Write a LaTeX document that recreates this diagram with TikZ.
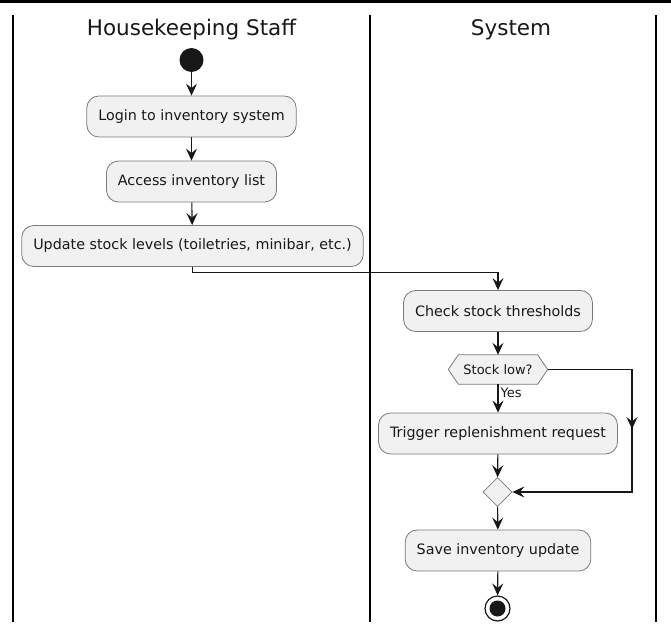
\documentclass[tikz,border=0pt]{standalone}
\usepackage{fontspec}
\setmainfont{DejaVu Sans}
\usetikzlibrary{arrows.meta,shapes.geometric}
\definecolor{boxfill}{HTML}{F1F1F1}
\definecolor{boxline}{HTML}{7A7A7A}
\definecolor{ink}{HTML}{181818}
\tikzset{
  act/.style={draw=boxline, fill=boxfill, rounded corners=12pt, line width=0.8pt,
    minimum height=41pt, inner xsep=11.5pt, font=\fontsize{14.3}{16}\selectfont, text=ink},
  flow/.style={draw=ink, line width=1.1pt, -{Stealth[length=12pt,width=11pt,inset=4.5pt]}},
  lane/.style={draw=black, line width=1.6pt},
  lanetitle/.style={font=\fontsize{21.5}{24}\selectfont, text=ink},
  small/.style={font=\fontsize{13}{15}\selectfont, text=ink},
}
\begin{document}
\begin{tikzpicture}[x=1pt,y=-1pt]
\useasboundingbox (0,0) rectangle (671,629);
\fill[black] (0,0) rectangle (671,2.5);
% lanes
\draw[lane] (13,15) -- (13,622);
\draw[lane] (370,15) -- (370,622);
\draw[lane] (656,15) -- (656,622);
\node[lanetitle] (t1) at (191.5,30) {Housekeeping Staff};
\node[lanetitle] (t2) at (511,30) {System};
% nodes
\node[circle, fill=ink, minimum size=24pt, inner sep=0pt] (start) at (191.5,60) {};
\node[act] (login) at (191.5,116.5) {Login to inventory system};
\node[act] (access) at (191.5,181.5) {Access inventory list};
\node[act] (update) at (192.5,246) {Update stock levels (toiletries, minibar, etc.)};
\node[act] (check) at (498,311) {Check stock thresholds};
\node[inner sep=0pt, minimum width=79pt, minimum height=29pt, small] (low) at (498,369.5) {};
\draw[draw=boxline, fill=boxfill, line width=0.8pt]
  (low.north west) -- (low.north east) -- ([xshift=10pt]low.east) -- (low.south east)
  -- (low.south west) -- ([xshift=-10pt]low.west) -- cycle;
\node[small] at (low) {Stock low?};
\node[act] (trigger) at (498,433.5) {Trigger replenishment request};
\node[diamond, draw=boxline, fill=boxfill, line width=0.8pt, minimum width=29pt, minimum height=29pt, inner sep=0pt] (merge) at (497.5,492) {};
\node[act] (save) at (498,550.5) {Save inventory update};
\node[circle, draw=ink, line width=1.2pt, fill=white, minimum size=25pt, inner sep=0pt] (stop) at (497.5,608.5) {};
\node[circle, fill=ink, minimum size=16pt, inner sep=0pt] at (stop) {};
\coordinate (lowright) at ([xshift=10pt]low.east);
\coordinate (rt) at (632,369.5);
\coordinate (rm) at (632,429);
\coordinate (rm2) at (632,421);
\coordinate (rb) at (632,492);
% connectors
\draw[flow] (start) -- (login);
\draw[flow] (login) -- (access);
\draw[flow] (access) -- (update);
\draw[flow] (update.south) -- ++(0,6) -| (check.north);
\draw[flow] (check) -- (low.north);
\draw[flow] (low.south) -- node[right, pos=0.3, small, inner xsep=2pt] {Yes} (trigger.north);
\draw[flow] (trigger) -- (merge);
\draw[flow] (lowright) -- (rt) -- (rm);
\draw[flow] (rm2) -- (rb) -- (merge.east);
\draw[flow] (merge) -- (save);
\draw[flow] (save) -- (stop);
\end{tikzpicture}
\end{document}
